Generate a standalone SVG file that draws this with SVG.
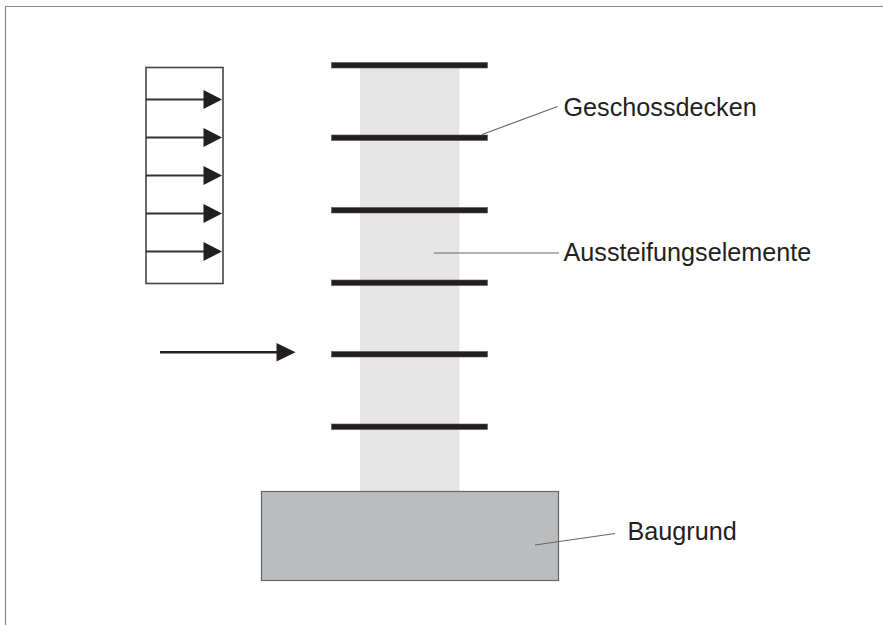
<svg xmlns="http://www.w3.org/2000/svg" width="883" height="625" viewBox="0 0 883 625">
<style>
.deck{fill:#231f20;stroke:#555;stroke-width:.6}
.load{stroke:#333;stroke-width:1.8;fill:none}
.head{fill:#231f20}
.lead{stroke:#666;stroke-width:1.1;fill:none}
text{font-family:"Liberation Sans",Arial,sans-serif;font-size:25.2px;fill:#231f20}
</style>
<rect width="883" height="625" fill="#fff"/>
<path d="M5.500 625V6.500H883" fill="none" stroke="#8a8a8a" stroke-width="1.200"/>
<g id="wall"><rect x="360" y="66" width="99.500" height="426" fill="#e5e5e5"/></g>
<g id="foundation"><rect x="261.500" y="491.500" width="297" height="89" fill="#bbbcbe" stroke="#666" stroke-width="1.200"/></g>
<g id="decks">
<rect class="deck" x="331.500" y="62.500" width="156" height="5.500"/>
<rect class="deck" x="331.500" y="135" width="156" height="5.500"/>
<rect class="deck" x="331.500" y="207.500" width="156" height="5.500"/>
<rect class="deck" x="331.500" y="280" width="156" height="5.500"/>
<rect class="deck" x="331.500" y="351.500" width="156" height="5.500"/>
<rect class="deck" x="331.500" y="424" width="156" height="5.500"/>
</g>
<g id="load-block"><rect x="146" y="67.500" width="77" height="216" fill="none" stroke="#444" stroke-width="1.600"/></g>
<g id="connectors">
<path class="load" d="M146 99.500H205M146 137.500H205M146 175.500H205M146 213.500H205M146 251.500H205"/>
<path class="head" d="M203.500 90L222 99.500L203.500 109ZM203.500 128L222 137.500L203.500 147ZM203.500 166L222 175.500L203.500 185ZM203.500 204L222 213.500L203.500 223ZM203.500 242L222 251.500L203.500 261Z"/>
<path d="M160 352.200H278" stroke="#231f20" stroke-width="2.400" fill="none"/>
<path class="head" d="M276.500 343L295.500 352.200L276.500 361.500Z"/>
<path class="lead" d="M482 134.500L557.500 106.500M434 253H559M535 545L615 533.500"/>
</g>
<g id="labels">
<text x="563.500" y="116">Geschossdecken</text>
<text x="563.500" y="261">Aussteifungselemente</text>
<text x="627.500" y="540">Baugrund</text>
</g>
</svg>
